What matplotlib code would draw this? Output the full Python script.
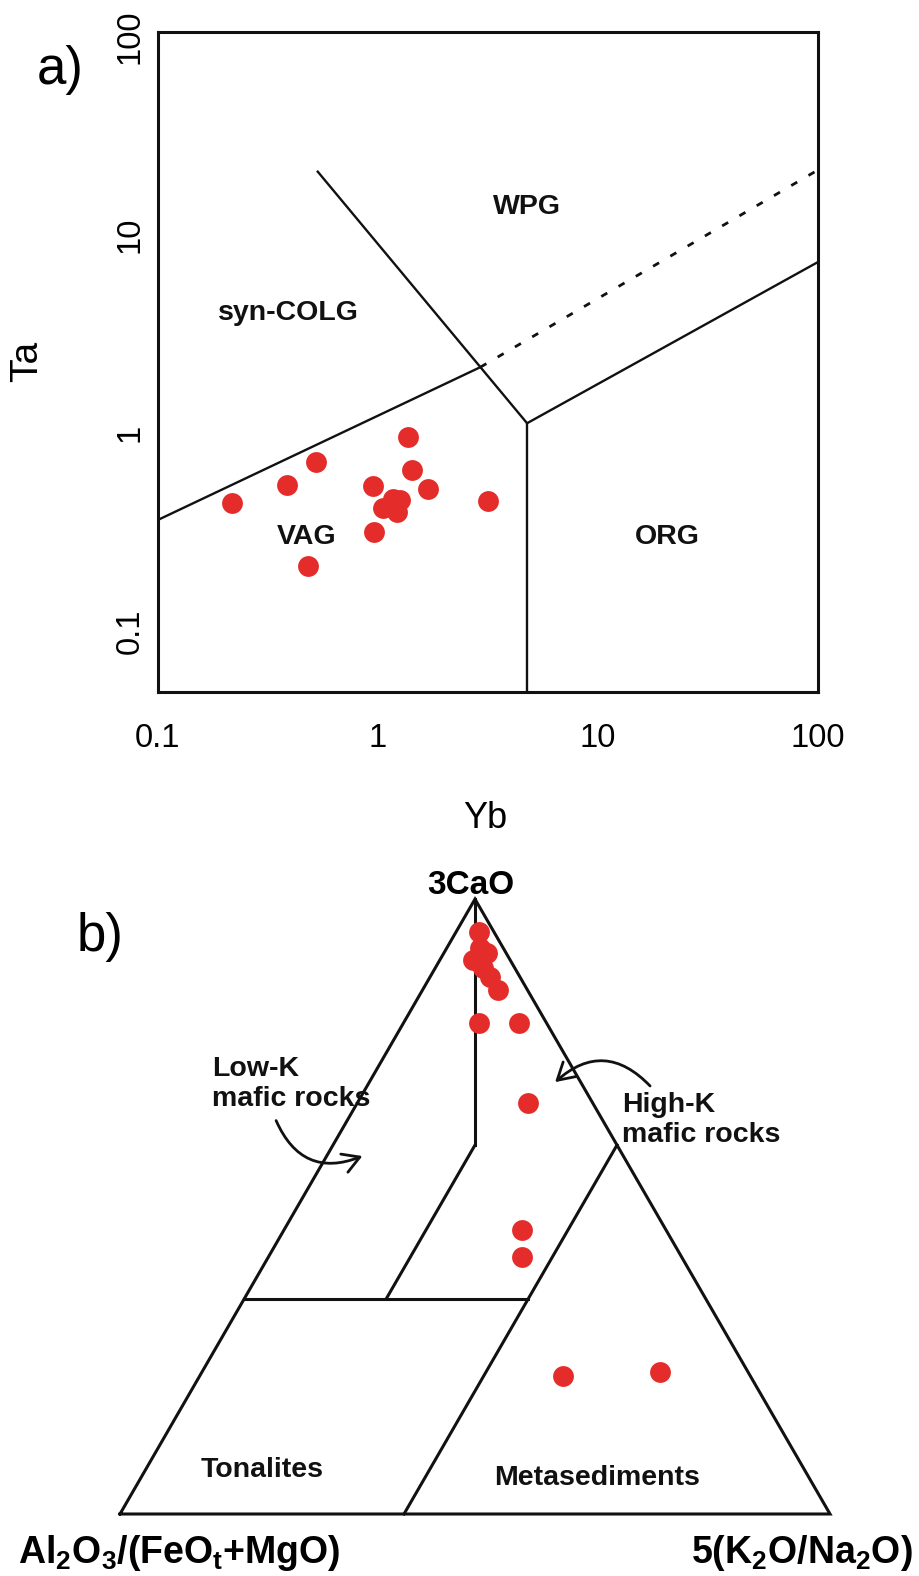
import numpy as np
import matplotlib
matplotlib.use('Agg')
import matplotlib.pyplot as plt
from matplotlib.ticker import NullLocator
from matplotlib.patches import FancyArrowPatch

plt.rcParams['font.family'] = ['Liberation Sans', 'DejaVu Sans']
plt.rcParams['mathtext.fontset'] = 'custom'
plt.rcParams['mathtext.rm'] = 'Liberation Sans'
plt.rcParams['mathtext.bf'] = 'Liberation Sans:bold'
plt.rcParams['mathtext.it'] = 'Liberation Sans:italic'

W, H = 920, 1576
RED = '#e42d2a'

# --- a) Ta vs Yb (Pearce et al. 1984) ---
yb = [0.217, 0.385, 0.523, 0.481, 0.948, 0.96, 1.37, 1.43, 1.69,
      1.05, 1.17, 1.26, 1.22, 3.16]
ta = [0.443, 0.546, 0.714, 0.213, 0.54, 0.316, 0.955, 0.65, 0.521,
      0.418, 0.464, 0.459, 0.399, 0.454]

# field boundaries (Yb, Ta)
colg_vag_x, colg_vag_y = [0.1, 2.92], [0.364, 2.15]
wpg_ext_x, wpg_ext_y = [2.92, 100], [2.15, 21.3]
wpg_vag_x, wpg_vag_y = [0.528, 4.76], [21.1, 1.12]
org_vag_x, org_vag_y = [4.76, 4.76], [1.12, 0.0492]
wpg_org_x, wpg_org_y = [4.76, 100], [1.12, 7.3]

x_ticks = [0.1, 1, 10, 100]
x_ticklabels = ['0.1', '1', '10', '100']
y_ticks = [0.1, 1, 10, 100]
y_ticklabels = ['0.1', '1', '10', '100']

# --- b) Al2O3/(FeOt+MgO) - 3CaO - 5(K2O/Na2O) ternary ---
cao = [0.947, 0.921, 0.912, 0.901, 0.888, 0.873, 0.852, 0.799, 0.799,
       0.669, 0.462, 0.418, 0.225, 0.231]
kna = [0.032, 0.047, 0.061, 0.047, 0.067, 0.084, 0.106, 0.106, 0.163,
       0.240, 0.335, 0.357, 0.512, 0.645]
alf = [0.021, 0.032, 0.027, 0.052, 0.045, 0.043, 0.042, 0.095, 0.038,
       0.091, 0.203, 0.225, 0.263, 0.124]

# field boundaries as (cao, kna) end points
tern_fields = [
    [(0.0, 0.4), (0.6, 0.4)],
    [(0.35, 0.0), (0.35, 0.4)],
    [(0.35, 0.2), (0.6, 0.2)],
    [(0.6, 0.2), (1.0, 0.0)],
]


def fx(px):
    return px / W


def fy(py):
    return 1 - py / H


def tern_xy(c, k, a=None):
    c = np.asarray(c, float)
    k = np.asarray(k, float)
    if a is not None:
        s = c + k + np.asarray(a, float)
        c, k = c / s, k / s
    return k + c / 2, c * np.sqrt(3) / 2


fig = plt.figure(figsize=(W / 100, H / 100), dpi=100)

ax = fig.add_axes([fx(158), fy(692), 660 / W, 660 / H])
ax.set_xscale('log')
ax.set_yscale('log')
ax.set_xlim(0.1, 100)
ax.set_ylim(0.0492, 105.9)

line_kw = dict(color='#111111', lw=1.7, solid_capstyle='butt')
ax.plot(colg_vag_x, colg_vag_y, **line_kw)
ax.plot(wpg_ext_x, wpg_ext_y, color='#111111', lw=2, linestyle=(0, (2.5, 4.7)))
ax.plot(wpg_vag_x, wpg_vag_y, **line_kw)
ax.plot(org_vag_x, org_vag_y, **line_kw)
ax.plot(wpg_org_x, wpg_org_y, **line_kw)

ax.plot(yb, ta, 'o', color=RED, ms=15, mec='none', zorder=5)

ax.set_xticks(x_ticks)
ax.set_xticklabels(x_ticklabels)
ax.set_yticks(y_ticks)
ax.set_yticklabels(y_ticklabels, rotation=90, va='center')
ax.xaxis.set_minor_locator(NullLocator())
ax.yaxis.set_minor_locator(NullLocator())
ax.tick_params(axis='both', length=0, labelsize=23.5)
ax.tick_params(axis='x', pad=22)
ax.tick_params(axis='y', pad=9)
for sp in ax.spines.values():
    sp.set_linewidth(2.2)
    sp.set_color('#111111')

region_kw = dict(fontsize=20.5, fontweight='bold', ha='center', va='center', color='#111111')
fig.text(fx(527), fy(207), 'WPG', **region_kw)
fig.text(fx(288), fy(313), 'syn-COLG', **region_kw)
fig.text(fx(307), fy(537), 'VAG', **region_kw)
fig.text(fx(667), fy(537), 'ORG', **region_kw)

fig.text(fx(60), fy(70), 'a)', fontsize=38, ha='center', va='center')
fig.text(fx(27), fy(361), 'Ta', fontsize=28, rotation=90, ha='center', va='center')
fig.text(fx(485), fy(818), 'Yb', fontsize=26, ha='center', va='center')

# ternary panel
tx = fig.add_axes([fx(120), fy(1514), 710 / W, 710 * np.sqrt(3) / 2 / H])
tx.set_xlim(0, 1)
tx.set_ylim(0, np.sqrt(3) / 2)
tx.axis('off')

edge_kw = dict(color='#111111', lw=2.2, solid_joinstyle='miter', clip_on=False)
ox, oy = tern_xy([0, 1, 0, 0], [0, 0, 1, 0])
tx.plot(ox, oy, **edge_kw)
for (c0, k0), (c1, k1) in tern_fields:
    lx, ly = tern_xy([c0, c1], [k0, k1])
    tx.plot(lx, ly, **edge_kw)

px, py = tern_xy(cao, kna, alf)
tx.plot(px, py, 'o', color=RED, ms=15, mec='none', zorder=5, clip_on=False)

fig.text(fx(471), fy(886), '3CaO', fontsize=24, fontweight='bold', ha='center', va='center')
fig.text(fx(18), fy(1553), r'$\mathbf{Al_2O_3/(FeO_t{+}MgO)}$', fontsize=27,
         ha='left', va='center')
fig.text(fx(913), fy(1553), r'$\mathbf{5(K_2O/Na_2O)}$', fontsize=27,
         ha='right', va='center')
fig.text(fx(100), fy(937), 'b)', fontsize=38, ha='center', va='center')

label_kw = dict(fontsize=20.5, fontweight='bold', color='#111111')
fig.text(fx(212), fy(1084), 'Low-K\nmafic rocks', ha='left', va='center',
         linespacing=1.15, **label_kw)
fig.text(fx(622), fy(1120), 'High-K\nmafic rocks', ha='left', va='center',
         linespacing=1.15, **label_kw)
fig.text(fx(262), fy(1470), 'Tonalites', ha='center', va='center', **label_kw)
fig.text(fx(597), fy(1478), 'Metasediments', ha='center', va='center', **label_kw)

arrow_kw = dict(transform=fig.transFigure, arrowstyle='->,head_length=0.6,head_width=0.35',
                mutation_scale=20, lw=2, color='#111111')
fig.patches.append(FancyArrowPatch((fx(275), fy(1118)), (fx(365), fy(1155)),
                                   connectionstyle='arc3,rad=0.5', **arrow_kw))
fig.patches.append(FancyArrowPatch((fx(652), fy(1088)), (fx(553), fy(1084)),
                                   connectionstyle='arc3,rad=0.5', **arrow_kw))

fig.savefig('out.png', dpi=100, facecolor='white')
